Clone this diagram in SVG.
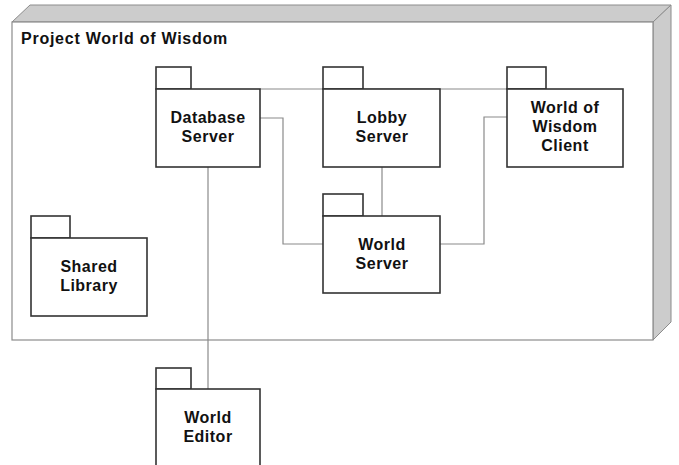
<svg xmlns="http://www.w3.org/2000/svg" width="679" height="465" viewBox="0 0 679 465">
<style>
.face{fill:#cccccc;stroke:#8c8c8c;stroke-width:1}
.front{fill:#ffffff;stroke:#8c8c8c;stroke-width:1.2}
.pkg{fill:#ffffff;stroke:#333333;stroke-width:1.6}
.conn{fill:none;stroke:#8a8a8a;stroke-width:1.2}
.lbl{font-family:"Liberation Sans",Arial,sans-serif;font-weight:bold;font-size:16px;fill:#111111;text-anchor:middle;letter-spacing:0.5px}
.title{font-family:"Liberation Sans",Arial,sans-serif;font-weight:bold;font-size:16px;fill:#111111;letter-spacing:0.75px}
</style>
<g id="frame">
<polygon class="face" points="12,22 30,5 671,5 653,22"/>
<polygon class="face" points="653,22 671,5 671,322 653,340"/>
<rect class="front" x="12" y="22" width="641" height="318"/>
<text class="title" x="21" y="44">Project World of Wisdom</text>
</g>
<g id="connectors">
<line class="conn" x1="260" y1="89" x2="507" y2="89"/>
<polyline class="conn" points="260,118 283,118 283,244 323,244"/>
<line class="conn" x1="382" y1="167" x2="382" y2="216"/>
<polyline class="conn" points="507,117 484,117 484,244 440,244"/>
<line class="conn" x1="208" y1="167" x2="208" y2="389"/>
</g>
<g id="database-server">
<rect class="pkg" x="156" y="67" width="35" height="22"/>
<rect class="pkg" x="156" y="89" width="104" height="78"/>
<text class="lbl" x="208" y="123">Database</text>
<text class="lbl" x="208" y="142">Server</text>
</g>
<g id="lobby-server">
<rect class="pkg" x="323" y="67" width="40" height="22"/>
<rect class="pkg" x="323" y="89" width="117" height="78"/>
<text class="lbl" x="382" y="123">Lobby</text>
<text class="lbl" x="382" y="142">Server</text>
</g>
<g id="client">
<rect class="pkg" x="507" y="67" width="39" height="22"/>
<rect class="pkg" x="507" y="89" width="116" height="78"/>
<text class="lbl" x="565" y="113">World of</text>
<text class="lbl" x="565" y="132">Wisdom</text>
<text class="lbl" x="565" y="151">Client</text>
</g>
<g id="world-server">
<rect class="pkg" x="323" y="194" width="40" height="22"/>
<rect class="pkg" x="323" y="216" width="117" height="77"/>
<text class="lbl" x="382" y="250">World</text>
<text class="lbl" x="382" y="269">Server</text>
</g>
<g id="shared-library">
<rect class="pkg" x="31" y="216" width="39" height="22"/>
<rect class="pkg" x="31" y="238" width="116" height="78"/>
<text class="lbl" x="89" y="272">Shared</text>
<text class="lbl" x="89" y="291">Library</text>
</g>
<g id="world-editor">
<rect class="pkg" x="156" y="368" width="35" height="21"/>
<rect class="pkg" x="156" y="389" width="104" height="90"/>
<text class="lbl" x="208" y="423">World</text>
<text class="lbl" x="208" y="442">Editor</text>
</g>
</svg>
